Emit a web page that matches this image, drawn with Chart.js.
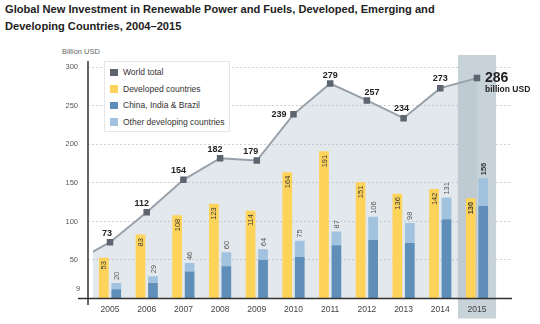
<!DOCTYPE html>
<html>
<head>
<meta charset="utf-8">
<script src="https://cdn.jsdelivr.net/npm/chart.js@4.4.0/dist/chart.umd.min.js"></script>
<style>
  html, body { margin: 0; padding: 0; background: #fff; }
  body { width: 540px; height: 324px; position: relative; overflow: hidden; font-family: "Liberation Sans", Arial, sans-serif; }
  #title { position: absolute; left: 5px; top: 1px; font-size: 11.1px; font-weight: bold; line-height: 17px; color: #222; }
  #unit { position: absolute; left: 62px; top: 47px; font-size: 7.5px; color: #666; }
  canvas { position: absolute; left: 0; top: 0; }
  .legend { position: absolute; left: 104px; top: 61px; width: 126px; height: 71px; background: #fff; border: 1px solid #e6e6e6; box-sizing: border-box; padding-top: 2px; }
  .legend div { position: relative; height: 16.5px; line-height: 16.5px; font-size: 8.5px; color: #333; padding-left: 18px; }
  .legend span { position: absolute; left: 5px; top: 4.5px; width: 7.5px; height: 7.5px; }
</style>
</head>
<body>
<div id="title">Global New Investment in Renewable Power and Fuels, Developed, Emerging and<br>Developing Countries, 2004–2015</div>
<div id="unit">Billion USD</div>
<canvas id="invest" width="540" height="324"></canvas>
<div class="legend">
  <div><span style="background:#5d6570"></span>World total</div>
  <div><span style="background:#fed35a"></span>Developed countries</div>
  <div><span style="background:#5f8fb9"></span>China, India &amp; Brazil</div>
  <div><span style="background:#a2c3e0"></span>Other developing countries</div>
</div>
<script>
var years = [2005, 2006, 2007, 2008, 2009, 2010, 2011, 2012, 2013, 2014, 2015];
var worldTotal = [73, 112, 154, 182, 179, 239, 279, 257, 234, 273, 286];
var worldTotal2004 = 47;
var developed = [53, 83, 108, 123, 114, 164, 191, 151, 136, 142, 130];
var chinaIndiaBrazil = [12, 20, 35, 42, 50, 54, 69, 76, 72, 103, 120];
var developingTotal = [20, 29, 46, 60, 64, 75, 87, 106, 98, 131, 156];
var otherDeveloping = developingTotal.map((t, i) => t - chinaIndiaBrazil[i]);
var yTicks = [0, 50, 100, 150, 200, 250, 300];
var highlightYear = 2015;

// nudges for the world total labels so they clear the line
var labelDx = [-3, -5, -5, -5, -6, 0, 0, 5, -2, 0, 0];
var labelDy = [-9, -9, -9, -9, -9, 0, -8, -8, -10, -10, 0];

var FONT = '"Liberation Sans", Arial, sans-serif';

var lineData = [{x: 2004, y: worldTotal2004}].concat(years.map((yr, i) => ({x: yr, y: worldTotal[i]})));

var decor = {
    id: 'decor',
    beforeDraw(chart) {
        var ctx = chart.ctx, xs = chart.scales.x, area = chart.chartArea;
        var x0 = xs.getPixelForValue(highlightYear - 0.52);
        var x1 = xs.getPixelForValue(highlightYear + 0.52);
        ctx.save();
        ctx.fillStyle = 'rgba(145,165,180,0.5)';
        ctx.fillRect(x0, area.top, x1 - x0, area.bottom - area.top + 20);
        ctx.restore();
    },
    beforeDatasetsDraw(chart) {
        // shaded area under the world total line
        var ctx = chart.ctx, area = chart.chartArea;
        var pts = chart.getDatasetMeta(0).data;
        var base = chart.scales.y.getPixelForValue(0);
        ctx.save();
        ctx.beginPath();
        ctx.rect(area.left + 5, area.top, area.right - area.left - 5, area.bottom - area.top);
        ctx.clip();
        ctx.beginPath();
        ctx.moveTo(pts[0].x, base);
        pts.forEach(p => ctx.lineTo(p.x, p.y));
        ctx.lineTo(pts[pts.length - 1].x, base);
        ctx.closePath();
        ctx.fillStyle = 'rgba(175,189,200,0.35)';
        ctx.fill();
        ctx.restore();
    },
    afterDatasetsDraw(chart) {
        var ctx = chart.ctx, area = chart.chartArea, ys = chart.scales.y;
        var y0 = ys.getPixelForValue(0);
        ctx.save();
        // axes
        ctx.strokeStyle = '#333';
        ctx.lineWidth = 1.5;
        ctx.beginPath();
        ctx.moveTo(area.left - 10, y0);
        ctx.lineTo(area.right + 2, y0);
        ctx.moveTo(area.left, area.top + 6);
        ctx.lineTo(area.left, y0 + 6.5);
        ctx.stroke();

        ctx.fillStyle = '#555';
        ctx.font = '7.5px ' + FONT;
        ctx.textAlign = 'center';
        ctx.textBaseline = 'middle';
        ctx.fillText('9', area.left - 10, y0 - 10);

        // developed bars: value inside the top of the bar
        var devBars = chart.getDatasetMeta(1).data;
        devBars.forEach((bar, i) => {
            ctx.save();
            ctx.translate(bar.x, bar.y + 3.5);
            ctx.rotate(-Math.PI / 2);
            ctx.textAlign = 'right';
            ctx.textBaseline = 'middle';
            ctx.fillStyle = '#3a3a3a';
            ctx.font = (years[i] === highlightYear ? 'bold ' : '') + '7.5px ' + FONT;
            ctx.fillText(String(developed[i]), 0, 0.5);
            ctx.restore();
        });

        // developing bars: total above the stack
        var topBars = chart.getDatasetMeta(3).data;
        topBars.forEach((bar, i) => {
            ctx.save();
            ctx.translate(bar.x, bar.y - 3);
            ctx.rotate(-Math.PI / 2);
            ctx.textAlign = 'left';
            ctx.textBaseline = 'middle';
            ctx.fillStyle = years[i] === highlightYear ? '#333' : '#555';
            ctx.font = (years[i] === highlightYear ? 'bold ' : '') + '7.5px ' + FONT;
            ctx.fillText(String(developingTotal[i]), 0, 0.5);
            ctx.restore();
        });

        // world total labels
        var pts = chart.getDatasetMeta(0).data;
        years.forEach((yr, i) => {
            var p = pts[i + 1];
            ctx.fillStyle = '#222';
            if (yr === highlightYear) {
                ctx.textAlign = 'left';
                ctx.textBaseline = 'middle';
                ctx.font = 'bold 14px ' + FONT;
                ctx.fillText(String(worldTotal[i]), p.x + 8, p.y);
                ctx.font = 'bold 8.5px ' + FONT;
                ctx.fillText('billion USD', p.x + 8, p.y + 11.5);
            } else if (labelDy[i] === 0) {
                ctx.textAlign = 'right';
                ctx.textBaseline = 'middle';
                ctx.font = 'bold 9px ' + FONT;
                ctx.fillText(String(worldTotal[i]), p.x - 7, p.y);
            } else {
                ctx.textAlign = 'center';
                ctx.textBaseline = 'middle';
                ctx.font = 'bold 9px ' + FONT;
                ctx.fillText(String(worldTotal[i]), p.x + labelDx[i], p.y + labelDy[i]);
            }
        });
        ctx.restore();
    }
};

var chart = new Chart(document.getElementById('invest').getContext('2d'), {
    type: 'bar',
    data: {
        datasets: [{
            type: 'line',
            label: 'World total',
            data: lineData,
            borderColor: '#98a1aa',
            borderWidth: 2,
            pointStyle: 'rect',
            pointRadius: 4.6,
            pointBorderWidth: 0,
            pointBackgroundColor: '#5d6570',
            tension: 0,
            clip: {left: -5, top: 10, right: 10, bottom: 0},
            order: 0
        }, {
            label: 'Developed countries',
            data: years.map((yr, i) => ({x: yr, y: developed[i]})),
            backgroundColor: '#fed35a',
            stack: 'dev',
            order: 1
        }, {
            label: 'China, India & Brazil',
            data: years.map((yr, i) => ({x: yr, y: chinaIndiaBrazil[i]})),
            backgroundColor: '#5f8fb9',
            stack: 'ing',
            order: 1
        }, {
            label: 'Other developing countries',
            data: years.map((yr, i) => ({x: yr, y: otherDeveloping[i]})),
            backgroundColor: '#a2c3e0',
            stack: 'ing',
            order: 1
        }]
    },
    options: {
        responsive: false,
        animation: false,
        devicePixelRatio: 1,
        categoryPercentage: 0.68,
        barPercentage: 0.78,
        layout: {padding: {top: 55, right: 30, left: 0, bottom: 0}},
        plugins: {
            legend: {display: false},
            tooltip: {enabled: false}
        },
        scales: {
            x: {
                type: 'linear',
                offset: false,
                min: 2004.4,
                max: 2015.9,
                grid: {display: false, drawTicks: false},
                border: {display: false},
                afterBuildTicks: s => { s.ticks = years.map(v => ({value: v})); },
                afterFit: s => { s.height = 25.5; },
                ticks: {
                    font: {family: FONT, size: 8.5},
                    color: '#444',
                    padding: 6,
                    maxRotation: 0,
                    callback: v => String(v)
                }
            },
            y: {
                stacked: true,
                min: 0,
                max: 316,
                afterBuildTicks: s => { s.ticks = yTicks.map(v => ({value: v})); },
                afterFit: s => { s.width = 88; },
                grid: {color: '#d2d2d2', drawTicks: false, lineWidth: 1},
                border: {display: false, dash: [2, 2]},
                ticks: {
                    font: {family: FONT, size: 7.5},
                    color: '#555',
                    padding: 10,
                    callback: v => v === 0 ? '' : String(v)
                }
            }
        }
    },
    plugins: [decor]
});
</script>
</body>
</html>
